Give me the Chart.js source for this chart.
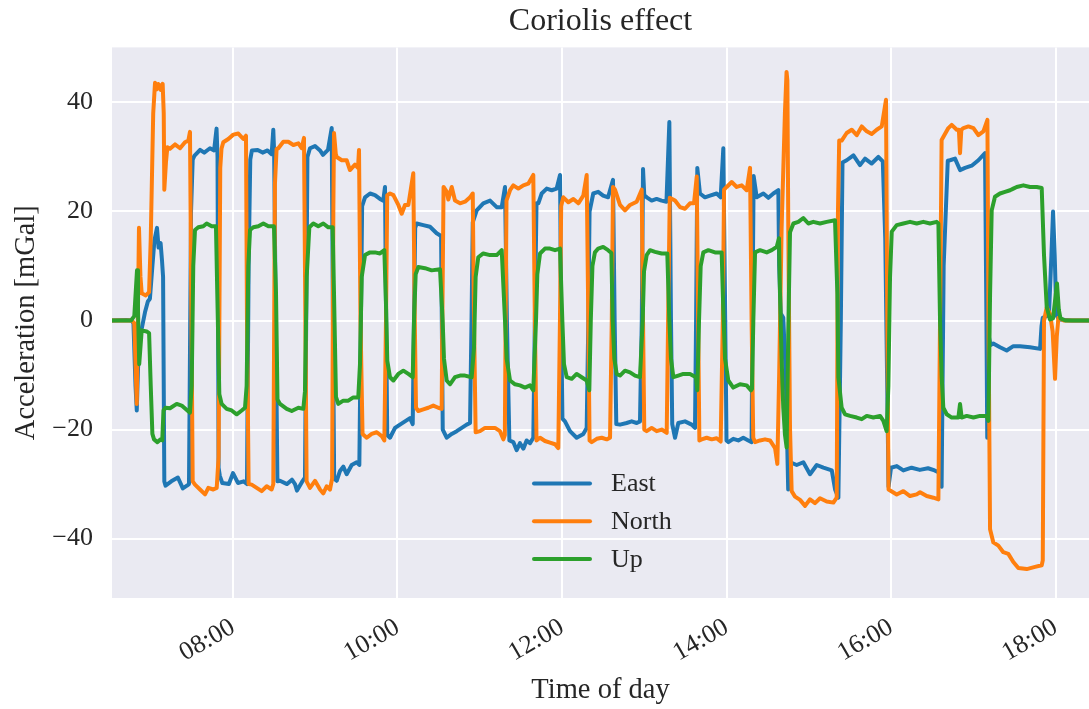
<!DOCTYPE html>
<html>
<head>
<meta charset="utf-8">
<title>Coriolis effect</title>
<script src="https://cdn.jsdelivr.net/npm/chart.js@4.4.1/dist/chart.umd.min.js"></script>
<style>
  html, body { margin: 0; padding: 0; background: #fff; }
  #wrap { width: 1089px; height: 709px; }
</style>
</head>
<body>
<div id="wrap"><canvas id="coriolis" width="1089" height="709"></canvas></div>
<script>
// time of day in decimal hours, acceleration in mGal
const hourTicks = [8, 10, 12, 14, 16, 18];
const accTicks = [-40, -20, 0, 20, 40];
const seriesNames = ['East', 'North', 'Up'];
const seriesColors = ['#1f77b4', '#ff7f0e', '#2ca02c'];

const east = [[6.53,0],[6.70,0.1],[6.772,0],[6.79,-0.6],[6.815,-12],[6.83,-16.5],[6.845,-9],[6.865,-2],[6.893,-1.3],[6.93,1.5],[6.965,3.5],[6.99,4],[7.02,10],[7.045,14.7],[7.076,17],[7.095,13.4],[7.12,14.2],[7.137,11],[7.15,8],[7.165,-29.5],[7.18,-30.3],[7.25,-29.5],[7.33,-28.8],[7.39,-30.8],[7.44,-30.3],[7.465,-30],[7.49,20],[7.51,29.5],[7.53,30.2],[7.6,31.3],[7.65,30.8],[7.72,31.6],[7.77,31.2],[7.80,35.2],[7.812,30],[7.825,-27],[7.84,-28.5],[7.87,-29.8],[7.95,-30],[8.0,-28],[8.06,-29.8],[8.13,-29.5],[8.17,-30],[8.19,10],[8.21,29.5],[8.23,31.2],[8.30,31.3],[8.36,30.8],[8.42,31.2],[8.47,30.5],[8.49,35],[8.50,31],[8.52,0],[8.54,-29.5],[8.571,-29.4],[8.657,-30],[8.717,-29.2],[8.754,-30],[8.778,-31.2],[8.839,-29.6],[8.875,-28.8],[8.89,0],[8.905,30],[8.936,31.6],[8.997,32],[9.058,31.2],[9.094,30.4],[9.155,31.3],[9.20,35.3],[9.215,0],[9.23,-29],[9.261,-29.4],[9.301,-27.6],[9.341,-26.8],[9.382,-28.2],[9.443,-26.5],[9.504,-26],[9.536,-26.5],[9.555,0],[9.57,21],[9.605,22.6],[9.666,23.3],[9.726,23],[9.787,22.3],[9.827,22],[9.848,24.5],[9.862,0],[9.875,-21],[9.909,-21.5],[9.970,-19.7],[10.03,-19.1],[10.091,-18.5],[10.152,-17.9],[10.185,-19],[10.20,0],[10.215,17],[10.233,17.8],[10.314,17.5],[10.395,17.2],[10.476,16],[10.53,15.5],[10.55,-20],[10.598,-21.5],[10.659,-20.8],[10.720,-20.3],[10.781,-19.7],[10.841,-19.1],[10.882,-18.8],[10.90,0],[10.915,18],[10.963,20.2],[11.043,21.5],[11.125,22],[11.206,20.8],[11.267,20.8],[11.307,24.5],[11.33,0],[11.36,-22],[11.408,-22.3],[11.449,-23.8],[11.489,-22.5],[11.530,-23.5],[11.570,-22],[11.611,-22.5],[11.651,-21.5],[11.67,0],[11.69,21.5],[11.712,21.5],[11.753,23.3],[11.814,24.2],[11.875,23.9],[11.935,24.2],[11.976,26.7],[11.99,0],[12.005,-18],[12.036,-18.5],[12.097,-20.3],[12.178,-21.5],[12.260,-20.8],[12.300,-19.7],[12.32,0],[12.335,20],[12.38,23.3],[12.44,23.6],[12.50,22.9],[12.56,22.6],[12.62,25.8],[12.64,0],[12.66,-19],[12.705,-19.1],[12.786,-18.8],[12.847,-18.5],[12.908,-18.8],[12.948,-18.5],[12.97,0],[12.985,27.8],[13.0,23],[13.03,22.6],[13.09,22],[13.15,22.3],[13.21,22],[13.27,21.8],[13.305,36.4],[13.325,0],[13.34,-19],[13.374,-21.5],[13.414,-18.8],[13.495,-18.5],[13.577,-19.1],[13.617,-19.7],[13.63,0],[13.645,28],[13.677,23.3],[13.738,22.6],[13.799,22.9],[13.880,23.3],[13.929,22.6],[13.961,31.6],[13.985,0],[14.0,-22],[14.022,-22.3],[14.082,-21.7],[14.143,-22],[14.204,-21.5],[14.265,-22],[14.305,-22.3],[14.315,0],[14.33,26.5],[14.367,22.6],[14.448,23.3],[14.509,22.5],[14.570,23.3],[14.630,23.9],[14.64,10],[14.66,1.3],[14.69,0.5],[14.72,-10],[14.75,-31],[14.775,-26],[14.853,-26.5],[14.934,-26],[15.015,-28.2],[15.097,-26.5],[15.178,-27],[15.280,-27.5],[15.32,-31],[15.36,-32.5],[15.39,0],[15.41,29],[15.461,29.4],[15.543,30.3],[15.623,28.5],[15.684,29.7],[15.765,28.8],[15.846,30],[15.900,29.2],[15.93,15],[15.97,-30.5],[16.0,-27],[16.07,-26.7],[16.15,-27.5],[16.25,-27],[16.35,-27.4],[16.45,-27.1],[16.53,-27.5],[16.60,-28],[16.615,-30.5],[16.64,10],[16.69,29.3],[16.717,29.4],[16.778,29.7],[16.839,27.6],[16.900,28],[16.981,28.4],[17.062,29.4],[17.143,30.7],[17.16,0],[17.17,-21.5],[17.19,-3],[17.21,-4.5],[17.243,-4.2],[17.325,-4.9],[17.406,-5.5],[17.487,-4.7],[17.568,-4.7],[17.690,-4.9],[17.812,-5.2],[17.83,-1],[17.845,0.5],[17.92,1],[17.95,12],[17.97,20],[17.99,12],[18.01,1],[18.04,0.2],[18.2,0],[18.41,0]];

const north = [[6.53,0],[6.77,0],[6.80,-0.5],[6.83,-15.3],[6.857,17],[6.875,8],[6.89,5],[6.94,4.6],[6.98,5.2],[7.0,15],[7.03,38],[7.052,43.6],[7.072,42.4],[7.09,43.4],[7.104,43.2],[7.121,42.3],[7.145,43.4],[7.158,38],[7.165,24],[7.185,29],[7.202,31.8],[7.234,31.5],[7.295,32.3],[7.356,31.6],[7.416,32.7],[7.457,33],[7.477,34.6],[7.495,0],[7.51,-29.5],[7.538,-30.1],[7.599,-31],[7.660,-31.9],[7.700,-30.7],[7.760,-31],[7.802,-30.7],[7.825,-25],[7.845,28],[7.86,31.5],[7.882,32.7],[7.943,33.3],[8.004,34.1],[8.065,34.3],[8.126,33.3],[8.158,33.9],[8.17,0],[8.19,-30],[8.227,-30.1],[8.288,-30.7],[8.349,-31.3],[8.410,-30.4],[8.470,-31],[8.49,-30],[8.51,25],[8.53,31.5],[8.551,31.6],[8.612,32.8],[8.672,32.8],[8.734,32.2],[8.795,32.5],[8.835,31.6],[8.863,33.5],[8.88,0],[8.895,-29.5],[8.936,-30.7],[8.997,-29.4],[9.058,-31],[9.098,-31.7],[9.139,-30.4],[9.179,-31],[9.205,-29],[9.22,20],[9.228,34.4],[9.25,30.5],[9.261,30],[9.322,29.4],[9.382,29.4],[9.422,27.6],[9.483,28.6],[9.52,28],[9.532,31.3],[9.55,0],[9.575,-20.8],[9.626,-21.5],[9.686,-20.8],[9.748,-20.5],[9.808,-21.2],[9.840,-22],[9.86,0],[9.875,23],[9.909,23.3],[9.950,23],[10.010,21.2],[10.051,19.6],[10.091,21.2],[10.132,21.2],[10.192,27],[10.21,0],[10.225,-16],[10.253,-16.6],[10.314,-16.3],[10.374,-16],[10.435,-15.6],[10.496,-16],[10.537,-16.2],[10.545,0],[10.56,24.5],[10.6,23.6],[10.618,22.2],[10.659,24.5],[10.699,22],[10.760,21.5],[10.821,21.8],[10.882,22.6],[10.915,23.3],[10.93,0],[10.95,-20.5],[11.003,-20.3],[11.064,-19.7],[11.125,-19.7],[11.185,-19.7],[11.246,-20.3],[11.287,-21.8],[11.305,-21],[11.325,22],[11.368,23.9],[11.408,24.8],[11.469,24.2],[11.530,24.8],[11.590,25.1],[11.651,26.7],[11.67,0],[11.69,-22],[11.733,-21.5],[11.793,-22.1],[11.854,-22.4],[11.915,-22.7],[11.955,-23.4],[11.975,0],[11.99,21],[12.016,22.6],[12.077,21.7],[12.138,22.3],[12.199,21.5],[12.259,22.9],[12.300,26.7],[12.32,0],[12.335,-22],[12.361,-22.3],[12.422,-21.7],[12.483,-21.5],[12.544,-21.8],[12.584,-21.5],[12.605,0],[12.62,24.5],[12.644,24],[12.705,21.2],[12.766,20.2],[12.827,21.2],[12.908,21.8],[12.969,24],[12.985,0],[13.0,-20],[13.029,-20.3],[13.090,-19.7],[13.151,-20.3],[13.212,-20],[13.273,-20.6],[13.29,0],[13.31,22.5],[13.374,22],[13.435,20.8],[13.495,20.5],[13.556,21.5],[13.605,21.5],[13.638,26.4],[13.655,0],[13.67,-22],[13.698,-21.8],[13.759,-21.5],[13.820,-21.8],[13.880,-21.6],[13.929,-22.2],[13.955,0],[13.97,24],[14.002,24.5],[14.063,25.4],[14.124,24.5],[14.185,24.8],[14.245,23.9],[14.286,28],[14.305,0],[14.325,-21.5],[14.347,-22.3],[14.407,-22],[14.468,-21.8],[14.529,-22],[14.590,-23.4],[14.618,-26.3],[14.64,-10],[14.67,17],[14.71,38],[14.73,45.6],[14.74,44],[14.751,17],[14.772,-19.7],[14.792,-31.3],[14.833,-32.3],[14.894,-32.9],[14.955,-34],[15.015,-32.8],[15.076,-33.5],[15.137,-32.6],[15.218,-33.2],[15.299,-33.4],[15.34,-32.5],[15.355,20],[15.37,33],[15.400,33],[15.461,34.4],[15.522,35],[15.583,34],[15.644,35.6],[15.705,34.7],[15.765,34.2],[15.826,35],[15.887,35.6],[15.939,40.5],[15.955,0],[15.97,-31],[16.069,-31.9],[16.150,-31.3],[16.231,-32.2],[16.312,-31.9],[16.353,-31.5],[16.434,-32.2],[16.515,-32.5],[16.576,-32.8],[16.596,0],[16.615,33.1],[16.697,35.3],[16.738,35.9],[16.799,35],[16.825,35],[16.839,30.7],[16.855,35],[16.880,35.3],[16.941,35.6],[17.002,35.3],[17.062,34],[17.123,34.7],[17.172,36.8],[17.185,0],[17.204,-38.3],[17.244,-40.7],[17.305,-41.3],[17.365,-42.5],[17.426,-42.8],[17.487,-44.3],[17.548,-45.4],[17.65,-45.6],[17.751,-45.2],[17.832,-44.9],[17.845,-44],[17.86,0],[17.893,2.4],[17.933,1.2],[17.965,-2],[17.994,-10.7],[18.015,-3],[18.035,0.5],[18.10,0],[18.41,0]];

const up = [[6.53,0],[6.76,0],[6.80,0.8],[6.833,9.2],[6.845,2],[6.86,-8],[6.89,-1.8],[6.95,-2],[6.98,-2.3],[7.0,-12],[7.02,-20.8],[7.04,-21.8],[7.08,-22.3],[7.12,-21.8],[7.14,-22],[7.155,-16.5],[7.18,-16],[7.234,-16.1],[7.316,-15.3],[7.376,-15.6],[7.477,-16.9],[7.498,-12],[7.517,10],[7.538,16.6],[7.578,17.1],[7.639,17.3],[7.680,17.8],[7.741,17.3],[7.793,17.3],[7.809,5],[7.834,-13.5],[7.862,-15.3],[7.923,-16.2],[7.984,-16.5],[8.045,-17.2],[8.106,-16.5],[8.146,-16],[8.166,-12],[8.186,10],[8.207,16.6],[8.247,17.1],[8.308,17.3],[8.369,17.8],[8.430,17.3],[8.498,17.3],[8.523,5],[8.541,-14.5],[8.571,-15.3],[8.653,-16.2],[8.714,-16.6],[8.795,-16],[8.855,-16.2],[8.875,-13],[8.896,8],[8.928,17.1],[8.977,17.8],[9.037,17.3],[9.098,17.8],[9.159,17.1],[9.212,17.1],[9.228,5],[9.252,-14],[9.280,-15.3],[9.341,-14.7],[9.402,-14.7],[9.463,-14.1],[9.523,-14.1],[9.544,-8],[9.565,8],[9.605,12],[9.666,12.5],[9.726,12.5],[9.787,12.3],[9.840,12.9],[9.860,3],[9.876,-7.4],[9.909,-10.4],[9.950,-11],[10.010,-9.8],[10.071,-9.2],[10.132,-9.8],[10.185,-10.4],[10.201,0],[10.221,8.5],[10.253,9.8],[10.334,9.6],[10.415,9.2],[10.517,9.4],[10.549,0],[10.565,-7],[10.598,-11],[10.638,-11.7],[10.699,-10.4],[10.760,-10.1],[10.821,-10.1],[10.902,-10.4],[10.930,-5],[10.950,8],[10.982,11.6],[11.043,12.3],[11.125,12],[11.206,12],[11.267,12.9],[11.307,0],[11.327,-7],[11.368,-11],[11.429,-11.7],[11.489,-11.9],[11.550,-12.3],[11.611,-11.9],[11.651,-12.8],[11.684,0],[11.700,8.5],[11.733,12.3],[11.793,13.2],[11.854,13.2],[11.915,12.9],[11.976,13.2],[12.004,0],[12.024,-8],[12.057,-10.4],[12.118,-10.7],[12.178,-9.8],[12.239,-10.4],[12.300,-11],[12.332,-12.8],[12.35,0],[12.37,10],[12.40,12.5],[12.44,13.2],[12.50,13.5],[12.56,12.9],[12.60,12.4],[12.616,0],[12.636,-7],[12.665,-9.8],[12.705,-10.1],[12.766,-9.2],[12.827,-9.5],[12.888,-10.1],[12.948,-10.4],[12.981,0],[12.997,9],[13.029,12],[13.070,12.9],[13.131,12.6],[13.212,12.3],[13.280,12.3],[13.305,0],[13.325,-7],[13.354,-10.4],[13.414,-10.1],[13.475,-9.8],[13.556,-9.8],[13.629,-10.4],[13.645,-12.8],[13.666,0],[13.686,10],[13.718,12.5],[13.779,12.9],[13.860,12.5],[13.941,12.5],[13.961,2],[13.982,-7],[14.022,-11],[14.082,-12.3],[14.164,-11.7],[14.245,-11.9],[14.298,-12.8],[14.310,-12.5],[14.326,0],[14.347,12.5],[14.407,12.9],[14.489,12.5],[14.550,12.9],[14.610,13.5],[14.638,15.1],[14.650,5],[14.670,-7],[14.690,-16],[14.711,-21],[14.731,-23.3],[14.751,-2],[14.772,16.2],[14.813,17.8],[14.873,18.1],[14.934,18.8],[14.995,17.8],[15.055,18.1],[15.137,17.8],[15.218,18.1],[15.319,18.4],[15.348,4.9],[15.360,-10.4],[15.400,-16],[15.441,-17.2],[15.502,-17.5],[15.583,-17.8],[15.644,-18.1],[15.705,-17.5],[15.786,-17.8],[15.867,-17.5],[15.907,-18.4],[15.947,-20.3],[15.968,-12],[15.988,8],[16.009,16.3],[16.069,17.5],[16.150,17.8],[16.231,18.1],[16.312,17.8],[16.393,18.1],[16.474,17.8],[16.555,18.1],[16.576,17.8],[16.596,0],[16.616,-10.4],[16.636,-16],[16.677,-17.2],[16.738,-17.8],[16.819,-17.8],[16.839,-15.3],[16.859,-17.8],[16.920,-17.5],[17.002,-17.8],[17.082,-17.5],[17.164,-17.5],[17.184,-18.4],[17.204,4.5],[17.224,20.2],[17.264,22.7],[17.325,23.3],[17.386,23.6],[17.447,23.9],[17.487,24.2],[17.528,24.5],[17.609,24.8],[17.690,24.5],[17.771,24.5],[17.832,24.3],[17.86,12],[17.893,2.5],[17.933,0.2],[17.97,0.4],[18.018,6.8],[18.04,2],[18.06,0.4],[18.12,0],[18.41,0]];

const serif = 'Liberation Serif';
const textColor = '#262626';

const toPoints = arr => arr.map(([x, y]) => ({ x, y }));

// seaborn-like grey plot background
const plotBackground = {
    id: 'plotBackground',
    beforeDraw(chart) {
        const { ctx, chartArea: a } = chart;
        ctx.save();
        ctx.fillStyle = '#eaeaf2';
        ctx.fillRect(a.left, a.top, a.right - a.left, a.bottom - a.top);
        ctx.restore();
    }
};

// legend drawn inside the plot, lower centre
const innerLegend = {
    id: 'innerLegend',
    afterDatasetsDraw(chart) {
        const { ctx, chartArea: a } = chart;
        ctx.save();
        ctx.font = '26px "' + serif + '"';
        ctx.textBaseline = 'middle';
        ctx.textAlign = 'left';
        chart.data.datasets.forEach((ds, i) => {
            const y = a.bottom - 114.5 + i * 37.8;
            const x0 = a.left + 422;
            ctx.strokeStyle = ds.borderColor;
            ctx.lineWidth = 4;
            ctx.lineCap = 'round';
            ctx.beginPath();
            ctx.moveTo(x0, y);
            ctx.lineTo(x0 + 56, y);
            ctx.stroke();
            ctx.fillStyle = textColor;
            ctx.fillText(ds.label, x0 + 77, y + 1);
        });
        ctx.restore();
    }
};

const seriesData = [east, north, up];

new Chart(document.getElementById('coriolis'), {
    type: 'line',
    data: {
        datasets: seriesNames.map((name, i) => ({
            label: name,
            data: toPoints(seriesData[i]),
            borderColor: seriesColors[i],
            backgroundColor: seriesColors[i],
            borderWidth: 4,
            borderJoinStyle: 'round',
            borderCapStyle: 'round',
            pointRadius: 0,
            tension: 0,
            fill: false,
            order: 3 - i
        }))
    },
    options: {
        responsive: false,
        devicePixelRatio: 1,
        animation: false,
        layout: { padding: 0 },
        plugins: {
            legend: { display: false },
            tooltip: { enabled: false },
            title: {
                display: true,
                fullSize: false,
                text: 'Coriolis effect',
                color: textColor,
                font: { family: serif, size: 32, weight: 'normal' },
                padding: { top: 2, bottom: 7 }
            }
        },
        scales: {
            x: {
                type: 'linear',
                min: 6.529,
                max: 18.407,
                afterBuildTicks: s => { s.ticks = hourTicks.map(v => ({ value: v })); },
                afterFit: s => { s.height = 111; s.paddingLeft = 0; s.paddingRight = 0; },
                grid: { color: '#ffffff', lineWidth: 2, drawTicks: false },
                border: { display: false },
                ticks: {
                    color: textColor,
                    font: { family: serif, size: 26 },
                    minRotation: 30,
                    maxRotation: 30,
                    padding: 14,
                    callback: v => String(v).padStart(2, '0') + ':00'
                },
                title: {
                    display: true,
                    text: 'Time of day',
                    color: textColor,
                    font: { family: serif, size: 28.5 },
                    padding: { top: 0, bottom: 1 }
                }
            },
            y: {
                min: -50.9,
                max: 50.1,
                afterBuildTicks: s => { s.ticks = accTicks.map(v => ({ value: v })); },
                afterFit: s => { s.width = 112; s.paddingTop = 0; s.paddingBottom = 0; },
                grid: { color: '#ffffff', lineWidth: 2, drawTicks: false },
                border: { display: false },
                ticks: {
                    color: textColor,
                    font: { family: serif, size: 26 },
                    padding: 19,
                    callback: v => (v < 0 ? '\u2212' + Math.abs(v) : String(v))
                },
                title: {
                    display: true,
                    text: 'Acceleration [mGal]',
                    color: textColor,
                    font: { family: serif, size: 28.5 },
                    padding: { top: 9, bottom: 0 }
                }
            }
        }
    },
    plugins: [plotBackground, innerLegend]
});
</script>
</body>
</html>
